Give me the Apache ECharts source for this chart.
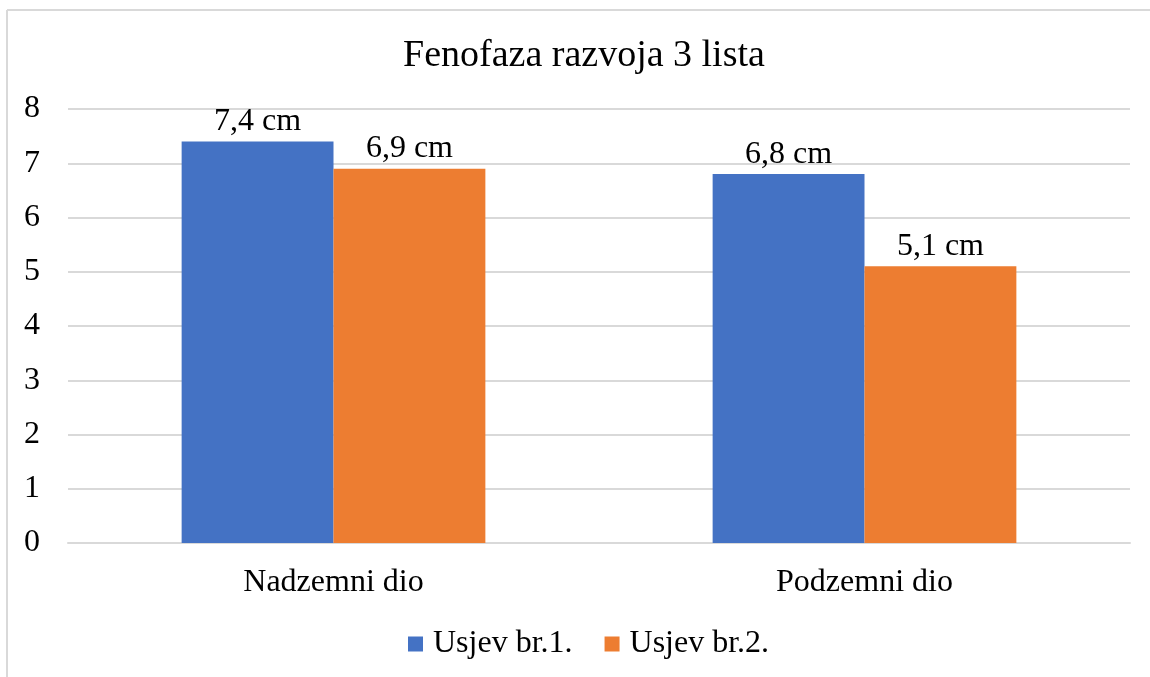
<!DOCTYPE html>
<html>
<head>
<meta charset="utf-8">
<script src="https://cdn.jsdelivr.net/npm/echarts@6/dist/echarts.min.js"></script>
<style>
html,body{margin:0;padding:0;background:#fff;}
#c{width:1150px;height:677px;}
</style>
</head>
<body>
<div id="c"></div>
<script>
const categories = ['Nadzemni dio', 'Podzemni dio'];
const seriesNames = ['Usjev br.1.', 'Usjev br.2.'];
const usjev1 = [7.4, 6.8];
const usjev2 = [6.9, 5.1];
const yTicks = [0, 8, 1];

const font = '"Liberation Serif", "Times New Roman", serif';
const chart = echarts.init(document.getElementById('c'));
const labelFmt = p => String(p.value).replace('.', ',') + ' cm';
chart.setOption({
  backgroundColor: '#fff',
  animation: false,
  title: {
    text: 'Fenofaza razvoja 3 lista',
    left: 398, top: 32,
    textStyle: { fontFamily: font, fontSize: 38, fontWeight: 'normal', color: '#000' }
  },
  legend: {
    bottom: 12, left: 403,
    itemWidth: 15, itemHeight: 15, itemGap: 32,
    icon: 'rect',
    textStyle: { fontFamily: font, fontSize: 32, color: '#000', padding: [0, 0, 0, 5] },
    data: seriesNames
  },
  grid: { left: 68, right: 20, top: 109, bottom: 134 },
  xAxis: {
    type: 'category', data: categories,
    axisLine: { lineStyle: { color: '#d9d9d9', width: 2 } },
    axisTick: { show: false },
    axisLabel: { fontFamily: font, fontSize: 32, color: '#000', margin: 24 }
  },
  yAxis: {
    type: 'value', min: yTicks[0], max: yTicks[1], interval: yTicks[2],
    axisLine: { show: false }, axisTick: { show: false },
    splitLine: { lineStyle: { color: '#d9d9d9', width: 2 } },
    axisLabel: { fontFamily: font, fontSize: 32, color: '#000', margin: 28 }
  },
  series: [
    { name: seriesNames[0], type: 'bar', data: usjev1, barWidth: '28.6%', barGap: '0%',
      itemStyle: { color: '#4472C4' },
      label: { show: true, position: 'top', distance: 4, formatter: labelFmt,
        fontFamily: font, fontSize: 32, color: '#000' } },
    { name: seriesNames[1], type: 'bar', data: usjev2, barWidth: '28.6%', barGap: '0%',
      itemStyle: { color: '#ED7D31' },
      label: { show: true, position: 'top', distance: 4, formatter: labelFmt,
        fontFamily: font, fontSize: 32, color: '#000' } }
  ],
  graphic: [
    { type: 'line', shape: { x1: 7, y1: 10, x2: 1150, y2: 10 }, style: { stroke: '#d9d9d9', lineWidth: 2 } },
    { type: 'line', shape: { x1: 7, y1: 10, x2: 7, y2: 677 }, style: { stroke: '#d9d9d9', lineWidth: 2 } }
  ]
});
</script>
</body>
</html>
